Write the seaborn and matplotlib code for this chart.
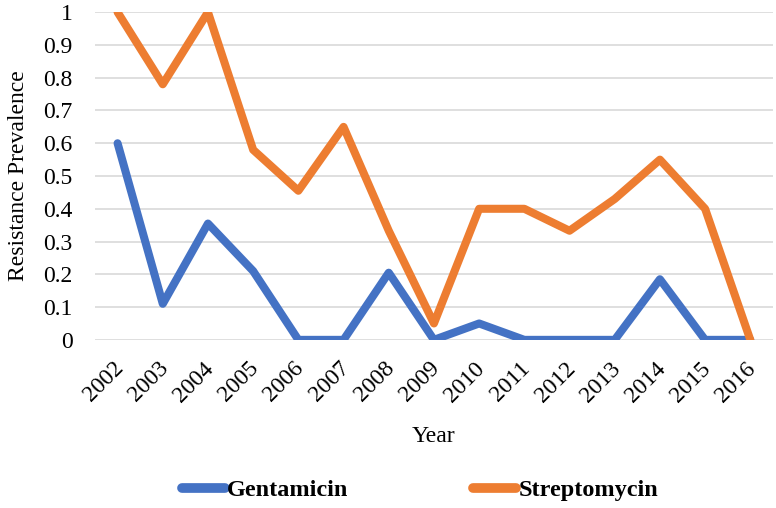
import matplotlib
matplotlib.use("Agg")
from matplotlib import pyplot as plt
from matplotlib.transforms import ScaledTranslation
import numpy as np
import pandas as pd
import seaborn as sns

sns.set_style('white')
plt.rcParams['font.family'] = ['Liberation Serif', 'DejaVu Serif']
plt.rcParams['text.color'] = 'black'

# Values
years = list(range(2002, 2017))
gentamicin = [0.60, 0.11, 0.355, 0.21, 0.0, 0.0, 0.205, 0.0, 0.05, 0.0, 0.0, 0.0, 0.185, 0.0, 0.0]
streptomycin = [1.0, 0.78, 1.0, 0.58, 0.455, 0.65, 0.333, 0.05, 0.40, 0.40, 0.333, 0.43, 0.55, 0.40, 0.0]

data = pd.DataFrame({
    "Year": years * 2,
    "Prevalence": gentamicin + streptomycin,
    "Drug": ["Gentamicin"] * len(years) + ["Streptomycin"] * len(years),
})

fig = plt.figure(figsize=(7.76, 5.08), dpi=100)
ax = fig.add_axes([0.1224, 0.331, 0.8736, 0.645])

sns.lineplot(data=data, x="Year", y="Prevalence", hue="Drug",
             palette={"Gentamicin": "#4472C4", "Streptomycin": "#ED7D31"},
             linewidth=5.8, ax=ax, legend=False)

ax.set_xlim(years[0] - 0.5, years[-1] + 0.5)
ax.set_ylim(0, 1)
ax.set_yticks(np.arange(0, 1.01, 0.1))
ax.set_yticklabels(["0"] + ["%.1f" % v for v in np.arange(0.1, 0.95, 0.1)] + ["1"])
ax.set_xticks(years)
ax.set_xticklabels([str(y) for y in years], rotation=45, ha='right',
                   rotation_mode='anchor')
ax.tick_params(axis='y', labelsize=17, length=0, pad=16, labelcolor='black')
ax.tick_params(axis='x', labelsize=17, length=0, pad=13, labelcolor='black')
# nudge the slanted year labels a little to the left, like the original
shift = ScaledTranslation(-5 / 100, 0, fig.dpi_scale_trans)
for lab in ax.get_xticklabels():
    lab.set_transform(lab.get_transform() + shift)
ax.grid(axis='y', color='#D9D9D9', linewidth=1.2)
ax.set_axisbelow(True)
for s in ax.spines.values():
    s.set_visible(False)

ax.set_xlabel("Year", fontsize=17, labelpad=14, color='black')
ax.set_ylabel("Resistance Prevalence", fontsize=17, labelpad=10, color='black')

# Legend below the chart
handles = [plt.Line2D([], [], color="#4472C4", linewidth=7, solid_capstyle='round'),
           plt.Line2D([], [], color="#ED7D31", linewidth=7, solid_capstyle='round')]
fig.legend(handles, ["Gentamicin", "Streptomycin"], loc='center',
           bbox_to_anchor=(0.541, 0.035), ncol=2, frameon=False,
           prop={'weight': 'bold', 'size': 17.5}, handlelength=1.8,
           handletextpad=0.08, columnspacing=5.1)

fig.savefig("out.png", dpi=100)
